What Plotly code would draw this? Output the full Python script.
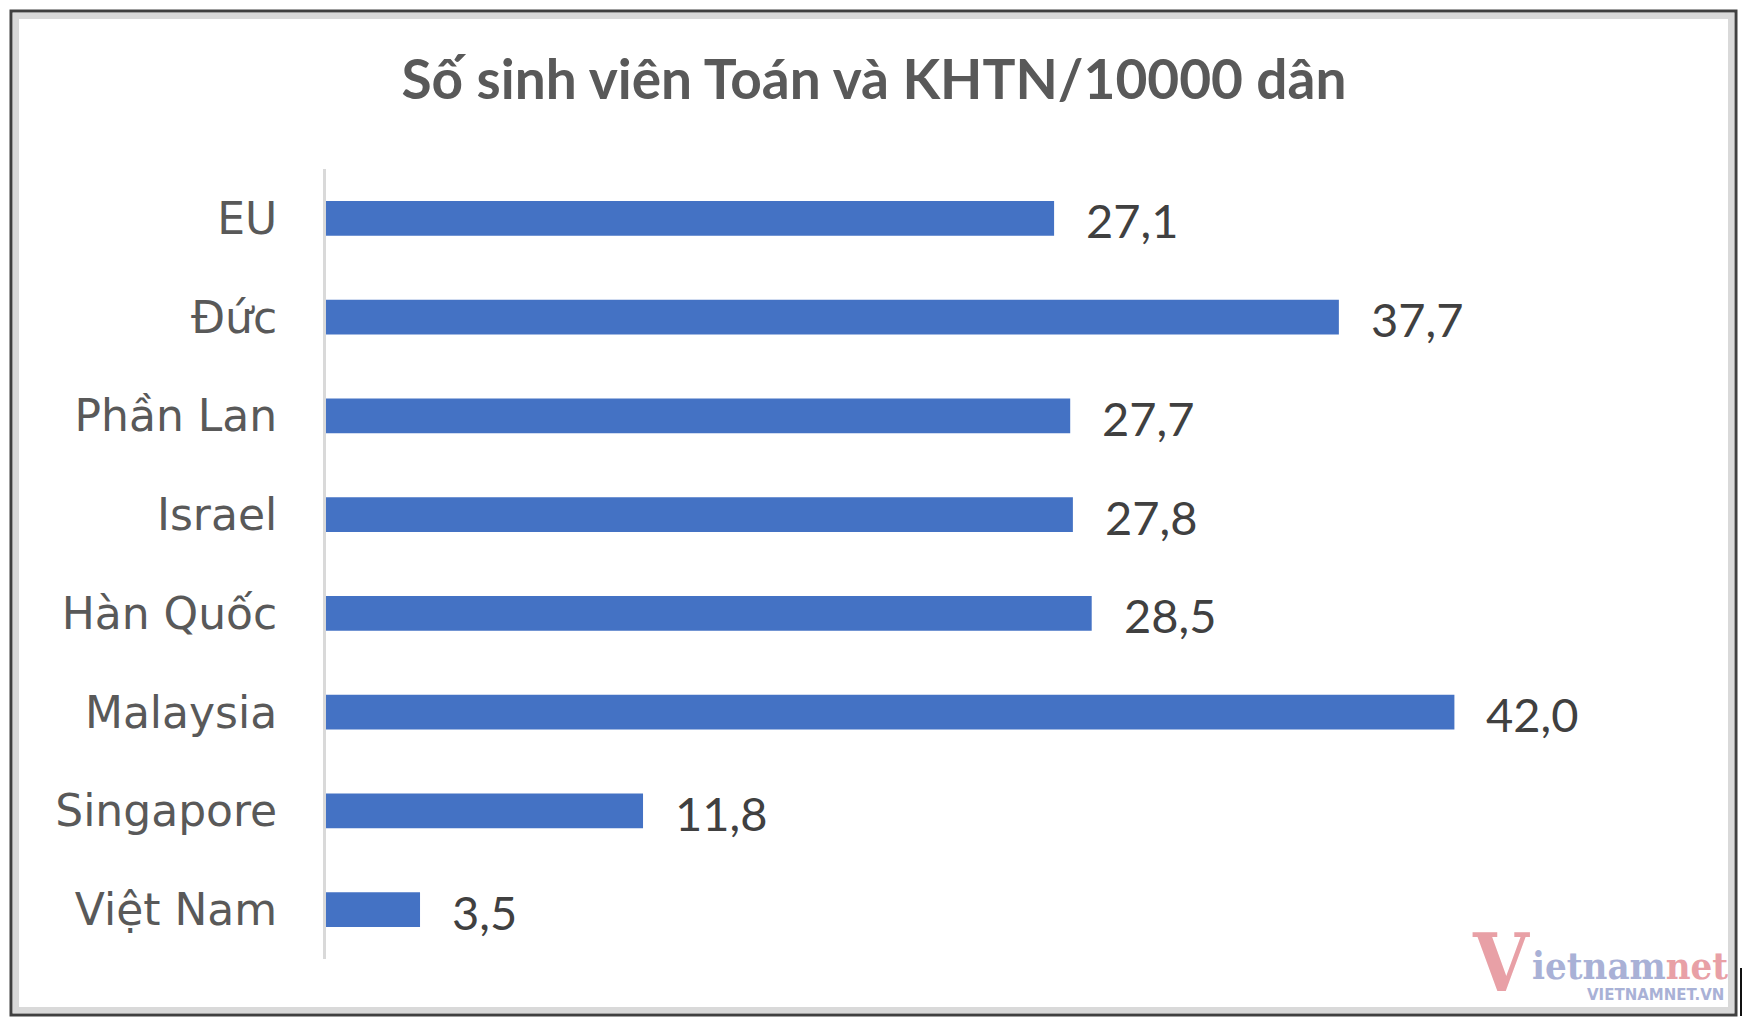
import plotly.graph_objects as go

# du lieu doc tu bieu do
countries = ["EU", "Đức", "Phần Lan", "Israel", "Hàn Quốc", "Malaysia", "Singapore", "Việt Nam"]
values = [27.1, 37.7, 27.7, 27.8, 28.5, 42.0, 11.8, 3.5]
value_labels = ["27,1", "37,7", "27,7", "27,8", "28,5", "42,0", "11,8", "3,5"]
title_text = "Số sinh viên Toán và KHTN/10000 dân"

W, H = 1748, 1030
L, R, T, B = 326, 213, 169, 71

fig = go.Figure()
fig.add_trace(go.Bar(
    y=countries, x=values, orientation="h",
    marker=dict(color="#4472C4", line=dict(width=0)),
    width=0.35, hoverinfo="skip",
))

# nhan gia tri ben phai thanh
for c, v, t in zip(countries, values, value_labels):
    fig.add_annotation(x=v, y=c, text=t, showarrow=False, xanchor="left",
                       yanchor="middle", xshift=30, yshift=-2,
                       font=dict(family="Lato", size=47, color="#404040"))

# khung vien ngoai
def px_x(p):
    return (p - L) / (W - L - R)

def px_y(p):
    return 1 - (p - T) / (H - T - B)

fig.add_shape(type="rect", xref="paper", yref="paper",
              x0=px_x(16), x1=px_x(1731), y0=px_y(16), y1=px_y(1010),
              line=dict(color="#d9d9d9", width=6), layer="below")
fig.add_shape(type="rect", xref="paper", yref="paper",
              x0=px_x(11), x1=px_x(1736), y0=px_y(11), y1=px_y(1015),
              line=dict(color="#404040", width=3), layer="below")
fig.add_shape(type="line", xref="paper", yref="paper",
              x0=px_x(1741), x1=px_x(1741), y0=px_y(968), y1=px_y(1016),
              line=dict(color="#111111", width=2))

# logo vietnamnet
fig.add_annotation(xref="paper", yref="paper", x=px_x(1532), y=px_y(1012),
                   xanchor="right", yanchor="bottom", showarrow=False,
                   text="<b>V</b>",
                   font=dict(family="DejaVu Serif Condensed", size=80, color="#e8a0a6"))
fig.add_annotation(xref="paper", yref="paper", x=px_x(1530), y=px_y(990),
                   xanchor="left", yanchor="bottom", showarrow=False,
                   text="<b><span style='color:#a9b1d6'>ietnam</span>"
                        "<span style='color:#e8a0a6'>net</span></b>",
                   font=dict(family="DejaVu Serif Condensed", size=38, color="#a9b1d6"))
fig.add_annotation(xref="paper", yref="paper", x=px_x(1726), y=px_y(1006),
                   xanchor="right", yanchor="bottom", showarrow=False,
                   text="<b>VIETNAMNET.VN</b>",
                   font=dict(family="DejaVu Sans", size=15, color="#a9b1d6"))

fig.update_layout(
    width=W, height=H,
    margin=dict(l=L, r=R, t=T, b=B, pad=0),
    paper_bgcolor="white", plot_bgcolor="white",
    showlegend=False, bargap=0.65,
    title=dict(text="<b>" + title_text + "</b>", x=0.5, xanchor="center",
               y=1 - 80 / H, yanchor="middle",
               font=dict(family="Lato", size=55, color="#595959")),
    xaxis=dict(range=[0, 45], visible=False, fixedrange=True),
    yaxis=dict(autorange="reversed", showline=True, linecolor="#d9d9d9",
               linewidth=3, showgrid=False, zeroline=False, ticks="",
               ticklabelstandoff=37,
               tickfont=dict(family="DejaVu Sans", size=44, color="#595959")),
)

fig.write_html("out.html", config={"displayModeBar": False},
               post_script="document.body.style.margin='0';")
